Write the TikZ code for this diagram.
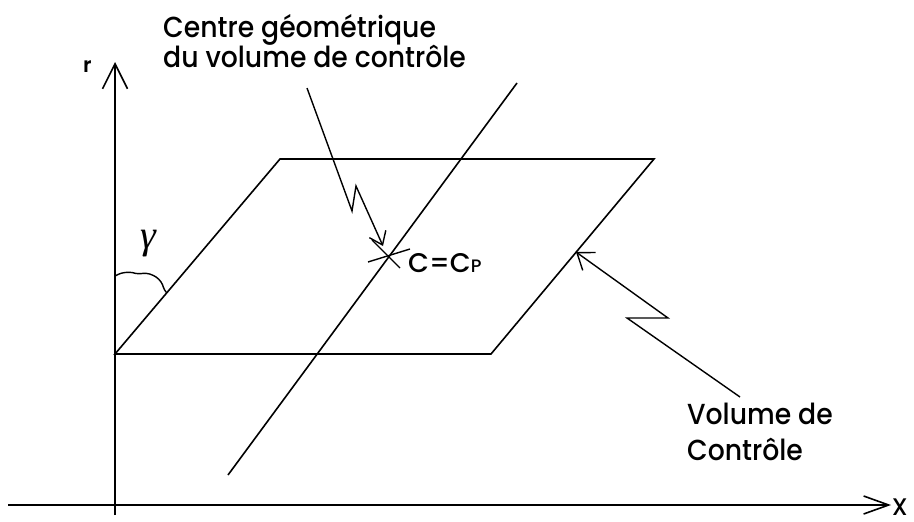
\documentclass[tikz,border=0pt]{standalone}
\usepackage{fontspec}
\setmainfont{Poppins}[UprightFont=*-Medium, BoldFont=*-SemiBold]
\newfontfamily\lblfont{Poppins}[UprightFont=*-Medium, FakeStretch=0.92]
\newfontfamily\gfont{Liberation Serif}
\usetikzlibrary{arrows.meta}
\begin{document}
\begin{tikzpicture}[x=1pt,y=-1pt,
  ln/.style={line width=1.6pt, line join=miter},
  thin ln/.style={line width=1.4pt},
  lbl/.style={font=\lblfont\fontsize{29}{32}\selectfont, inner sep=0pt, anchor=base west},
  lblsm/.style={font=\fontsize{27}{28}\selectfont, inner sep=0pt, anchor=base west},
  raxis/.style={-{Straight Barb[length=25pt,width=25pt,line width=1.6pt]}},
  xaxis/.style={-{Straight Barb[length=25pt,width=18pt,line width=1.6pt]}},
  lead/.style={-{Straight Barb[length=12pt,width=18pt,line width=1.4pt]}},
  leadb/.style={-{Straight Barb[length=15pt,width=22pt,line width=1.4pt]}}
]
\useasboundingbox (0,0) rectangle (914,522);

% axes
\coordinate (rb) at (115,515);
\coordinate (rt) at (115,62);
\coordinate (xa) at (8,505);
\coordinate (xb) at (891,505);
\draw[ln,raxis] (rb) -- (rt);
\draw[ln,xaxis] (xa) -- (xb);

% control volume
\coordinate (P1) at (115,354);
\coordinate (P2) at (491,354);
\coordinate (P3) at (654,159);
\coordinate (P4) at (280,159);
\draw[ln] (P1) -- (P2) -- (P3) -- (P4) -- cycle;

% long line
\coordinate (L1) at (228,475);
\coordinate (L2) at (517,83);
\draw[ln] (L1) -- (L2);

% angle gamma
\coordinate (g0) at (115,276);
\coordinate (g9) at (167,293);
\draw[thin ln, rounded corners=3pt] (g0) -- (121,273) -- (130,272) -- (138,274) -- (146,273)
   -- (153,275) -- (159,279) -- (163,285) -- (164,290) -- (g9);
\node[font=\gfont\itshape\fontsize{40}{44}\selectfont, inner sep=0pt] (gam) at (148,244) {γ};

% centre point
\coordinate (C) at (388,256);
\coordinate (ca1) at (372,240);
\coordinate (ca2) at (400,268);
\coordinate (cb1) at (368,262);
\coordinate (cb2) at (410,249);
\draw[thin ln] (ca1) -- (ca2);
\draw[thin ln] (cb1) -- (cb2);

% labels
\node[lbl] (t1) at (163,37) {Centre géométrique};
\node[lbl] (t2) at (163,67) {du volume de contrôle};
\node[lbl] (v1) at (687,424) {Volume de};
\node[lbl] (v2) at (687,460) {Contrôle};
\node[lblsm] (cc) at (408,272) {C=C{\fontsize{18}{18}\selectfont P}};
\node[inner sep=0pt, anchor=base east, font=\fontsize{24}{26}\selectfont] (xl) at (908,515) {X};
\node[font=\fontsize{21}{24}\selectfont\bfseries, inner sep=0pt, anchor=base west] (rl) at (83,72) {r};

% leader to centre
\coordinate (a0) at (307,88);
\coordinate (a1) at (352,211);
\coordinate (a2) at (356,186);
\coordinate (a3) at (383,246);
\draw[thin ln,lead] (a0) -- (a1) -- (a2) -- (a3);

% leader to control volume
\coordinate (b0) at (740,397);
\coordinate (b1) at (627,318);
\coordinate (b2) at (668,318);
\coordinate (b3) at (576,252);
\draw[thin ln,leadb] (b0) -- (b1) -- (b2) -- (b3);
\end{tikzpicture}
\end{document}
